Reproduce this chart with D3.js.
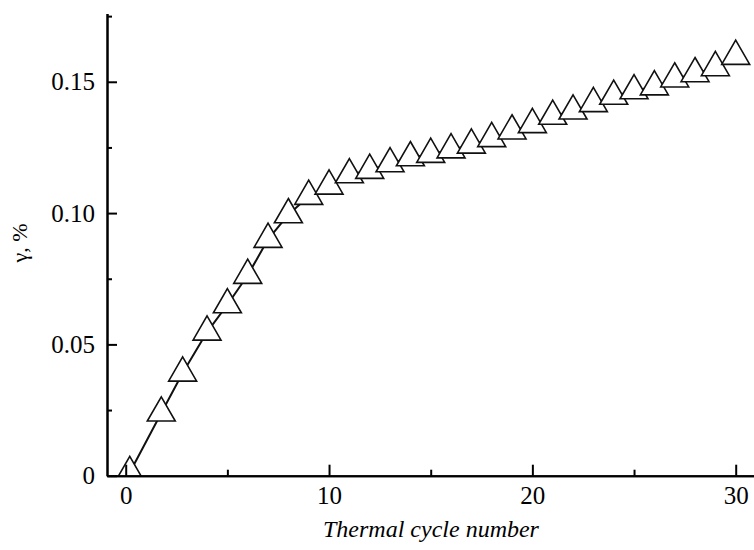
<!DOCTYPE html>
<html>
<head>
<meta charset="utf-8">
<script src="https://cdn.jsdelivr.net/npm/d3@7"></script>
<style>
  html, body { margin:0; padding:0; background:#fff; }
  svg { display:block; }
</style>
</head>
<body>
<svg id="chart"></svg>
<script>
// thermal cycle number and strain gamma (%)
const cycles = [0.2, 1.75, 2.8, 4, 5, 6, 7, 8, 9, 10, 11, 12, 13, 14, 15, 16, 17, 18, 19, 20,
  21, 22, 23, 24, 25, 26, 27, 28, 29, 30];
const gamma = [0.0012, 0.0239, 0.0391, 0.0547, 0.0651, 0.0763, 0.0900, 0.0994, 0.1064, 0.1103,
  0.1146, 0.1163, 0.1188, 0.1211, 0.1224, 0.1241, 0.1259, 0.1284, 0.1313, 0.1337,
  0.1369, 0.1389, 0.1417, 0.1445, 0.1466, 0.1481, 0.1511, 0.1531, 0.1554, 0.1597];

const xMajor = [0, 10, 20, 30];
const xMinor = [5, 15, 25];
const yMajor = [0, 0.05, 0.10, 0.15];
const yMinor = [0.025, 0.075, 0.125, 0.175];
const yLabels = ["0", "0.05", "0.10", "0.15"];

const FONT = "'Liberation Serif', 'Times New Roman', serif";
const W = 754;
const H = 550;

const svg = d3.select("#chart")
  .attr("width", W)
  .attr("height", H);

const x = d3.scaleLinear()
  .domain([-0.92, 30.9])
  .range([107, 754]);

const y = d3.scaleLinear()
  .domain([0, 0.176])
  .range([475.7, 13.5]);

const data = cycles.map((c, i) => ({c:c, g:gamma[i]}));

svg.append("clipPath")
  .attr("id", "plot-clip")
  .append("rect")
  .attr("x", x.range()[0])
  .attr("y", 0)
  .attr("width", W - x.range()[0])
  .attr("height", y(0));

const plot = svg.append("g").attr("clip-path", "url(#plot-clip)");

// ───── LINE ─────
plot.append("path")
  .datum(data)
  .attr("fill", "none")
  .attr("stroke", "#111")
  .attr("stroke-width", 2)
  .attr("d", d3.line().x(d => x(d.c)).y(d => y(d.g)));

// ───── TRIANGLES ─────
const tri = d3.symbol().type(d3.symbolTriangle).size(339);

plot.selectAll(".pt")
  .data(data)
  .join("path")
  .attr("class", "pt")
  .attr("transform", d => `translate(${x(d.c)},${y(d.g)})`)
  .attr("d", tri)
  .attr("fill", "#fff")
  .attr("stroke", "#111")
  .attr("stroke-width", 1.6)
  .attr("stroke-linejoin", "miter");

// ───── AXES ─────
function styleAxis(g){
  g.attr("font-family", FONT).attr("font-size", 25);
  g.selectAll("path, line").attr("stroke", "#000").attr("stroke-width", 2);
  g.selectAll("text").attr("fill", "#000");
}

svg.append("g")
  .attr("transform", `translate(0,${y(0)})`)
  .call(d3.axisBottom(x).tickValues(xMinor).tickSize(-6).tickSizeOuter(0).tickFormat(""))
  .call(styleAxis);

svg.append("g")
  .attr("transform", `translate(0,${y(0)})`)
  .call(d3.axisBottom(x).tickValues(xMajor).tickSize(-11).tickSizeOuter(0).tickPadding(11).tickFormat(d3.format("d")))
  .call(styleAxis);

svg.append("g")
  .attr("transform", `translate(${x.range()[0]},0)`)
  .call(d3.axisLeft(y).tickValues(yMinor).tickSize(-5).tickSizeOuter(0).tickFormat(""))
  .call(styleAxis);

svg.append("g")
  .attr("transform", `translate(${x.range()[0]},0)`)
  .call(d3.axisLeft(y).tickValues(yMajor).tickSize(-10).tickSizeOuter(0).tickPadding(12)
    .tickFormat((d, i) => yLabels[i]))
  .call(styleAxis);

// ───── TITLES ─────
svg.append("text")
  .attr("x", 431)
  .attr("y", 537)
  .attr("text-anchor", "middle")
  .attr("font-family", FONT)
  .attr("font-size", 24)
  .attr("font-style", "italic")
  .text("Thermal cycle number");

svg.append("text")
  .attr("transform", "translate(27,243) rotate(-90)")
  .attr("text-anchor", "middle")
  .attr("font-family", FONT)
  .attr("font-size", 22)
  .text("γ, %");
</script>
</body>
</html>
